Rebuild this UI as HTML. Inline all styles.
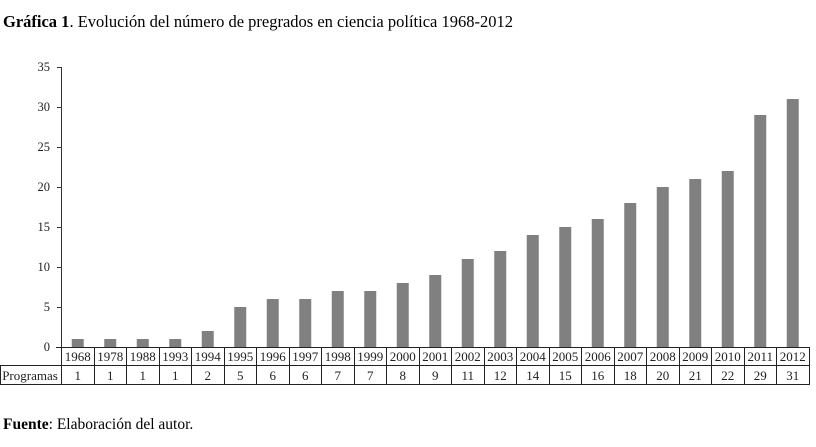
<!DOCTYPE html>
<html><head><meta charset="utf-8"><style>
body{margin:0;background:#fff;width:816px;height:442px;overflow:hidden;font-family:"Liberation Serif",serif;color:#222}
</style></head><body>
<svg width="816" height="442" xmlns="http://www.w3.org/2000/svg" font-family="Liberation Serif, serif">
<text x="3" y="27" font-size="16.5"><tspan font-weight="bold">Gráfica 1</tspan>. Evolución del número de pregrados en ciencia política 1968-2012</text>
<text x="3" y="429" font-size="15.5"><tspan font-weight="bold">Fuente</tspan>: Elaboración del autor.</text>
<g font-size="12.5" text-anchor="end" fill="#222">
<text x="50" y="351">0</text><text x="50" y="311">5</text><text x="50" y="271">10</text><text x="50" y="231">15</text><text x="50" y="191">20</text><text x="50" y="151">25</text><text x="50" y="111">30</text><text x="50" y="71">35</text>
</g>
<g stroke="#333" stroke-width="1">
<line x1="61.5" y1="67" x2="61.5" y2="347"/>
<line x1="57" y1="67.5" x2="61.5" y2="67.5"/><line x1="57" y1="107.5" x2="61.5" y2="107.5"/><line x1="57" y1="147.5" x2="61.5" y2="147.5"/><line x1="57" y1="187.5" x2="61.5" y2="187.5"/><line x1="57" y1="227.5" x2="61.5" y2="227.5"/><line x1="57" y1="267.5" x2="61.5" y2="267.5"/><line x1="57" y1="307.5" x2="61.5" y2="307.5"/>
</g>
<g id="bars" fill="#808080"></g>
<g id="tbl" stroke="#222" stroke-width="1" fill="none">
<line x1="56" y1="347.5" x2="809" y2="347.5"/>
<line x1="0" y1="365.5" x2="809" y2="365.5"/>
<line x1="0" y1="384.5" x2="809" y2="384.5"/>
<line x1="0.5" y1="365" x2="0.5" y2="385"/>
</g>
<g id="txt" font-size="13" text-anchor="middle" fill="#222"><text x="30" y="380">Programas</text></g>
</svg>
<script>
var yrs=[1968,1978,1988,1993,1994,1995,1996,1997,1998,1999,2000,2001,2002,2003,2004,2005,2006,2007,2008,2009,2010,2011,2012];
var v=[1,1,1,1,2,5,6,6,7,7,8,9,11,12,14,15,16,18,20,21,22,29,31];
var ns="http://www.w3.org/2000/svg",b=document.getElementById('bars'),t=document.getElementById('tbl'),x=document.getElementById('txt');
function el(p,n,a,s){var e=document.createElementNS(ns,n);for(var k in a)e.setAttribute(k,a[k]);if(s!=null)e.textContent=s;p.appendChild(e);}
var w=(809-61.5)/23;
for(var i=0;i<=23;i++){var xx=Math.round(61+i*w)+0.5;el(t,'line',{x1:xx,y1:347,x2:xx,y2:385});}
for(var i=0;i<23;i++){var c=61.5+(i+0.5)*w;
el(b,'rect',{x:c-6,y:347-v[i]*8,width:12,height:v[i]*8});
el(x,'text',{x:c,y:361},yrs[i]);el(x,'text',{x:c,y:380},v[i]);}
</script>
</body></html>
